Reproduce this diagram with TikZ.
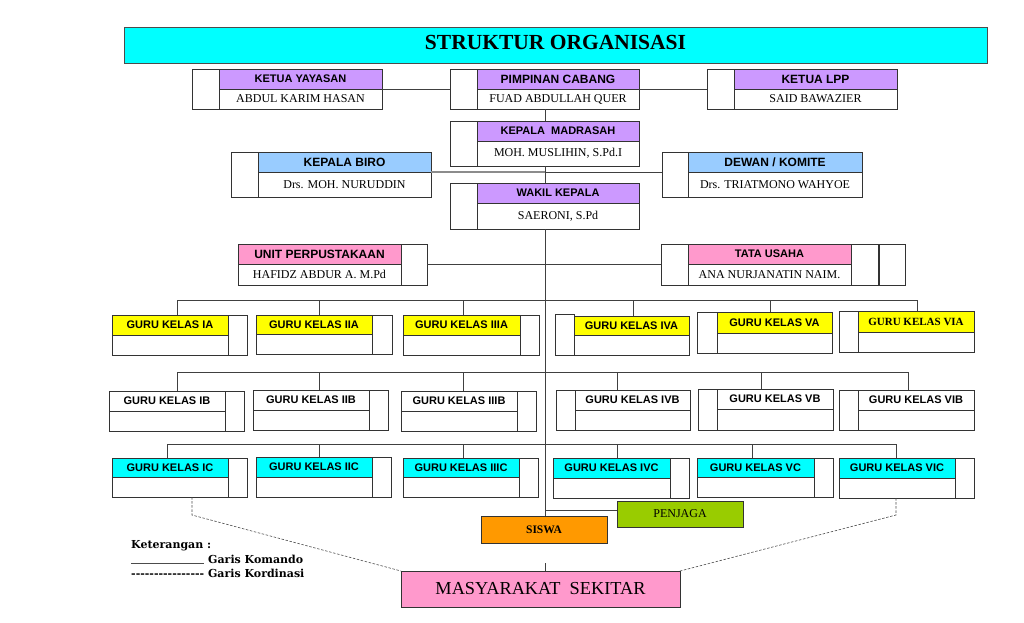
\documentclass[tikz,border=0pt]{standalone}
\usepackage{fontspec}
\setmainfont{Liberation Serif}
\newfontfamily\arialf{Liberation Sans}
\newfontfamily\legf{DejaVu Serif}
\definecolor{titlecyan}{HTML}{00FFFF}
\definecolor{hpurple}{HTML}{CC99FF}
\definecolor{hblue}{HTML}{99CCFF}
\definecolor{hpink}{HTML}{FF99CC}
\definecolor{hyellow}{HTML}{FFFF00}
\definecolor{hcyan}{HTML}{00FFFF}
\definecolor{sorange}{HTML}{FF9900}
\definecolor{pgreen}{HTML}{99CC00}
\definecolor{mpink}{HTML}{FF99CC}
\tikzset{
 box/.style={draw=black!80, line width=0.9pt, inner sep=0pt, outer sep=0pt, fill=white},
 hd/.style={font=\arialf\bfseries\fontsize{12}{13}\selectfont},
 hds/.style={font=\arialf\bfseries\fontsize{11}{12}\selectfont},
 gd/.style={font=\arialf\bfseries\fontsize{11}{12}\selectfont},
 gds/.style={font=\bfseries\fontsize{11}{12}\selectfont},
 nm/.style={font=\fontsize{12}{13}\selectfont},
 ln/.style={draw=black!75, line width=0.8pt},
 lngray/.style={draw=black!45, line width=1.3pt},
 dsh/.style={draw=black!70, line width=0.6pt, dash pattern=on 2.5pt off 1.6pt},
 lg/.style={font=\legf\bfseries\fontsize{11}{12}\selectfont, inner sep=0pt, anchor=base west},
}
\newcommand\obox[7][]{\node[box,minimum width={(#5-#3)*1pt},minimum height={(#6-#4)*1pt},anchor=north west,#1] (#2) at (#3,#4) {#7};}
\newcommand\hy{-\kern0pt}
\begin{document}
\begin{tikzpicture}[x=1pt,y=-1pt]
\useasboundingbox (0,0) rectangle (1024,622);
% title
\obox[fill=titlecyan,draw=black!70,text depth=6pt,font=\bfseries\fontsize{21.5}{22}\selectfont]{title}{124}{27}{987}{63}{STRUKTUR ORGANISASI}
% row 1
\obox{kyL}{192}{69}{219}{109}{}
\obox[fill=hpurple,hds]{kyH}{219}{69}{382}{89}{KETUA YAYASAN}
\obox[nm]{kyN}{219}{89}{382}{109}{ABDUL KARIM HASAN}
\obox{pcL}{450}{69}{477}{109}{}
\obox[fill=hpurple,hd]{pcH}{477}{69}{639}{89}{PIMPINAN CABANG}
\obox[nm]{pcN}{477}{89}{639}{109}{FUAD ABDULLAH QUER}
\obox{lpL}{707}{69}{734}{109}{}
\obox[fill=hpurple,hd]{lpH}{734}{69}{897}{89}{KETUA LPP}
\obox[nm]{lpN}{734}{89}{897}{109}{SAID BAWAZIER}
% kepala madrasah
\obox{kmL}{450}{121}{477}{166}{}
\obox[fill=hpurple,hds]{kmH}{477}{121}{639}{141}{KEPALA~~MADRASAH}
\obox[nm]{kmN}{477}{141}{639}{166}{MOH. MUSLIHIN, S.Pd.I}
% biro / dewan
\obox{kbL}{231}{152}{258}{197}{}
\obox[fill=hblue,hd]{kbH}{258}{152}{431}{172}{KEPALA BIRO}
\obox[nm]{kbN}{258}{172}{431}{197}{Drs. MOH. NURUDDIN}
\obox{dwL}{662}{152}{688}{197}{}
\obox[fill=hblue,hd]{dwH}{688}{152}{862}{172}{DEWAN / KOMITE}
\obox[nm]{dwN}{688}{172}{862}{197}{Drs. TRIATMONO WAHYOE}
% wakil
\obox{wkL}{450}{183}{477}{229}{}
\obox[fill=hpurple,hds]{wkH}{477}{183}{639}{203}{WAKIL KEPALA}
\obox[nm]{wkN}{477}{203}{639}{229}{SAERONI, S.Pd}
% perpustakaan / tata usaha
\obox[fill=hpink,hd]{upH}{238}{244}{401}{264}{UNIT PERPUSTAKAAN}
\obox[nm]{upN}{238}{264}{401}{285}{HAFIDZ ABDUR A. M.Pd}
\obox{upR}{401}{244}{427}{285}{}
\obox{tuL}{661}{244}{688}{285}{}
\obox[fill=hpink,hds]{tuH}{688}{244}{851}{264}{TATA USAHA}
\obox[nm]{tuN}{688}{264}{851}{285}{ANA NURJANATIN NAIM.}
\obox{tuR}{851}{244}{878}{285}{}
\obox{tuS}{879.5}{244}{905}{285}{}
% row A
\obox[fill=hyellow,gd]{iaH}{112}{315}{228}{335}{GURU KELAS IA}
\obox{iaN}{112}{335}{228}{355}{}
\obox{iaR}{228}{315}{247}{355}{}
\obox[fill=hyellow,gd]{iiaH}{256}{315}{372}{334}{GURU KELAS IIA}
\obox{iiaN}{256}{334}{372}{354}{}
\obox{iiaR}{372}{315}{392}{354}{}
\obox[fill=hyellow,gd]{iiiaH}{403}{315}{520}{335}{GURU KELAS IIIA}
\obox{iiiaN}{403}{335}{520}{355}{}
\obox{iiiaR}{520}{315}{539}{355}{}
\obox{ivaL}{555}{314}{574}{355}{}
\obox[fill=hyellow,gd]{ivaH}{574}{316}{689}{335}{GURU KELAS IVA}
\obox{ivaN}{574}{335}{689}{355}{}
\obox{vaL}{697}{312}{717}{353}{}
\obox[fill=hyellow,gd]{vaH}{717}{312}{832}{333}{GURU KELAS VA}
\obox{vaN}{717}{333}{832}{353}{}
\obox{viaL}{839}{311}{858}{352}{}
\obox[fill=hyellow,gds]{viaH}{858}{311}{974}{332}{GURU KELAS VIA}
\obox{viaN}{858}{332}{974}{352}{}
% row B
\obox[gd]{ibH}{109}{391}{225}{411}{GURU KELAS IB}
\obox{ibN}{109}{411}{225}{431}{}
\obox{ibR}{225}{391}{244}{431}{}
\obox[gd]{iibH}{253}{390}{369}{410}{GURU KELAS IIB}
\obox{iibN}{253}{410}{369}{430}{}
\obox{iibR}{369}{390}{388}{430}{}
\obox[gd]{iiibH}{401}{391}{517}{411}{GURU KELAS IIIB}
\obox{iiibN}{401}{411}{517}{431}{}
\obox{iiibR}{517}{391}{536}{431}{}
\obox{ivbL}{556}{390}{575}{430}{}
\obox[gd]{ivbH}{575}{390}{690}{410}{GURU KELAS IVB}
\obox{ivbN}{575}{410}{690}{430}{}
\obox{vbL}{698}{389}{717}{430}{}
\obox[gd]{vbH}{717}{389}{833}{409}{GURU KELAS VB}
\obox{vbN}{717}{409}{833}{430}{}
\obox{vibL}{839}{390}{858}{430}{}
\obox[gd]{vibH}{858}{390}{974}{410}{GURU KELAS VIB}
\obox{vibN}{858}{410}{974}{430}{}
% row C
\obox[fill=hcyan,gd]{icH}{112}{458}{228}{477}{GURU KELAS IC}
\obox{icN}{112}{477}{228}{497}{}
\obox{icR}{228}{458}{247}{497}{}
\obox[fill=hcyan,gd]{iicH}{256}{457}{372}{477}{GURU KELAS IIC}
\obox{iicN}{256}{477}{372}{497}{}
\obox{iicR}{372}{457}{391}{497}{}
\obox[fill=hcyan,gd]{iiicH}{403}{458}{519}{477}{GURU KELAS IIIC}
\obox{iiicN}{403}{477}{519}{497}{}
\obox{iiicR}{519}{458}{538}{497}{}
\obox[fill=hcyan,gd]{ivcH}{553}{458}{670}{478}{GURU KELAS IVC}
\obox{ivcN}{553}{478}{670}{498}{}
\obox{ivcR}{670}{458}{689}{498}{}
\obox[fill=hcyan,gd]{vcH}{697}{458}{814}{477}{GURU KELAS VC}
\obox{vcN}{697}{477}{814}{497}{}
\obox{vcR}{814}{458}{833}{497}{}
\obox[fill=hcyan,gd]{vicH}{839}{458}{955}{478}{GURU KELAS VIC}
\obox{vicN}{839}{478}{955}{498}{}
\obox{vicR}{955}{458}{974}{498}{}
% bottom
\obox[fill=pgreen,nm]{pj}{617}{501}{743}{527}{PENJAGA}
\obox[fill=sorange,font=\bfseries\fontsize{11.5}{12}\selectfont]{sw}{481}{516}{607}{543}{SISWA}
\obox[fill=mpink,font=\fontsize{18.3}{20}\selectfont]{ms}{401}{571}{680}{607}{MASYARAKAT~~SEKITAR}
% coordinates
\coordinate (cx) at (545,0);
\coordinate (a1) at (177,300); \coordinate (a2) at (319,300); \coordinate (a3) at (463,300);
\coordinate (a4) at (633,300); \coordinate (a5) at (770,300); \coordinate (a6) at (917,300);
\coordinate (b1) at (177,372); \coordinate (b2) at (319,372); \coordinate (b3) at (463,372);
\coordinate (b4) at (617,372); \coordinate (b5) at (761,372); \coordinate (b6) at (908,372);
\coordinate (c1) at (167,444); \coordinate (c2) at (319,444); \coordinate (c3) at (463,444);
\coordinate (c4) at (617,444); \coordinate (c5) at (752,444); \coordinate (c6) at (896,444);
\coordinate (d1) at (192,515); \coordinate (d2) at (896,515);
\coordinate (mst) at (545,563);
\coordinate (pjw) at ([yshift=4pt]pj.west);
% connectors
\draw[ln] (kyH.south east) -- (pcL.west);
\draw[ln] (pcH.south east) -- (lpL.west);
\draw[ln] (cx |- pcN.south) -- (cx |- kmH.north);
\draw[ln] (cx |- kmN.south) -- (cx |- wkH.north);
\draw[ln] (cx |- wkN.south) -- (cx |- sw.north);
\draw[lngray] (kbN.north east) -- (cx |- kbN.north east);
\draw[ln] (cx |- kbN.north east) -- (dwL.west |- kbN.north east);
\draw[ln] (upR.east |- upN.north) -- (tuL.west |- upN.north);
\draw[ln] (a1) -- (a6);
\draw[ln] (b1) -- (b6);
\draw[ln] (c1) -- (c6);
\draw[ln] (a1) -- (a1 |- iaH.north);
\draw[ln] (a2) -- (a2 |- iiaH.north);
\draw[ln] (a3) -- (a3 |- iiiaH.north);
\draw[ln] (a4) -- (a4 |- ivaH.north);
\draw[ln] (a5) -- (a5 |- vaH.north);
\draw[ln] (a6) -- (a6 |- viaH.north);
\draw[ln] (b1) -- (b1 |- ibH.north);
\draw[ln] (b2) -- (b2 |- iibH.north);
\draw[ln] (b3) -- (b3 |- iiibH.north);
\draw[ln] (b4) -- (b4 |- ivbH.north);
\draw[ln] (b5) -- (b5 |- vbH.north);
\draw[ln] (b6) -- (b6 |- vibH.north);
\draw[ln] (c1) -- (c1 |- icH.north);
\draw[ln] (c2) -- (c2 |- iicH.north);
\draw[ln] (c3) -- (c3 |- iiicH.north);
\draw[ln] (c4) -- (c4 |- ivcH.north);
\draw[ln] (c5) -- (c5 |- vcH.north);
\draw[ln] (c6) -- (c6 |- vicH.north);
\draw[ln] (cx |- pjw) -- (pjw);
\draw[ln] (mst) -- (mst |- ms.north);
\draw[dsh] (d1 |- icN.south) -- (d1) -- (ms.north west);
\draw[dsh] (d2 |- vicN.south) -- (d2) -- (ms.north east);
% legend
\node[lg] (ket) at (131,548) {Keterangan :};
\node[lg] (gkm) at (208,563) {Garis Komando};
\coordinate (kl) at (131,563);
\draw[draw=black!70, line width=0.6pt] (kl) -- ([xshift=-4pt]gkm.base west);
\node[lg] (gkd) at (131,577) {\hy\hy\hy\hy\hy\hy\hy\hy\hy\hy\hy\hy\hy\hy\hy\hy\ Garis Kordinasi};
\end{tikzpicture}
\end{document}
